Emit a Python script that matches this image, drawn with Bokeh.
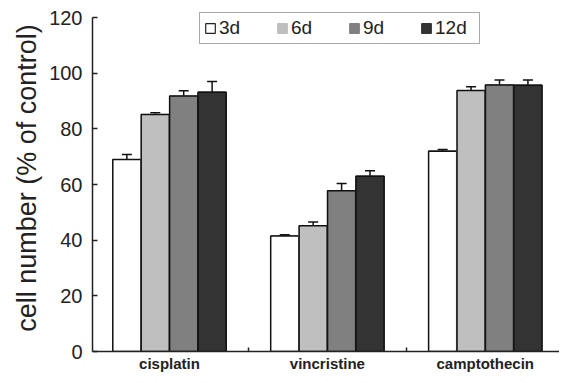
from bokeh.plotting import figure
from bokeh.models import ColumnDataSource, Whisker, TeeHead, FixedTicker, Legend, LegendItem
from bokeh.embed import file_html
from bokeh.resources import INLINE

drugs = ["cisplatin", "vincristine", "camptothecin"]
series = ["3d", "6d", "9d", "12d"]
colors = ["#ffffff", "#bfbfbf", "#808080", "#333333"]
values = {
    "3d": [69.0, 41.5, 72.0],
    "6d": [85.2, 45.2, 93.8],
    "9d": [91.8, 57.8, 95.8],
    "12d": [93.2, 63.0, 95.7],
}
errors = {
    "3d": [1.8, 0.5, 0.6],
    "6d": [0.6, 1.3, 1.3],
    "9d": [1.9, 2.6, 1.8],
    "12d": [3.8, 2.0, 1.9],
}
y_ticks = [0, 20, 40, 60, 80, 100, 120]

p = figure(width=559, height=375, output_backend="svg", toolbar_location=None,
           x_range=(0.0125, 2.97), y_range=(0, 124.7),
           min_border_left=92, min_border_right=0, min_border_top=4, min_border_bottom=24)
p.grid.visible = False
p.outline_line_color = None
p.background_fill_color = "white"

bw = 0.178
offsets = [-0.27, -0.09, 0.09, 0.27]
items = []
for s, c, off in zip(series, colors, offsets):
    xs = [i + 0.5 + off for i in range(len(drugs))]
    tops = values[s]
    ups = [v + e for v, e in zip(tops, errors[s])]
    src = ColumnDataSource(dict(x=xs, top=tops, lower=tops, upper=ups))
    lg = p.vbar(x="x", top="top", width=bw, source=src, fill_color=c,
                line_color="#222222" if c == "#ffffff" else c, line_width=1.2)
    p.vbar(x="x", top="top", width=bw, source=src, fill_color=c,
           line_color="#111111", line_width=1.5)
    w = Whisker(base="x", lower="lower", upper="upper", source=src, dimension="height",
                line_color="#111111", line_width=1.5, lower_head=None,
                upper_head=TeeHead(size=10, line_color="#111111", line_width=1.5))
    p.add_layout(w)
    items.append(LegendItem(label=s, renderers=[lg]))

legend = Legend(items=items, orientation="horizontal", location=(107, 307),
                label_text_font="Liberation Sans", label_text_font_size="19px",
                label_text_color="#222222",
                glyph_width=12, glyph_height=12, label_standoff=3, label_width=40,
                spacing=17, padding=4, margin=0,
                border_line_color="#555555", border_line_width=1.2,
                label_height=16)
p.add_layout(legend, "center")

p.yaxis.ticker = FixedTicker(ticks=y_ticks)
p.yaxis.bounds = (0, 120)
p.yaxis.major_tick_in = 5
p.yaxis.major_tick_out = 0
p.yaxis.major_label_standoff = 10
p.yaxis.axis_label = "cell number (% of control)"
p.yaxis.axis_label_text_font = "Liberation Sans"
p.yaxis.axis_label_text_font_size = "27px"
p.yaxis.axis_label_text_font_style = "normal"
p.yaxis.axis_label_text_color = "#222222"
p.yaxis.axis_label_standoff = 4
p.yaxis.major_label_text_font = "Liberation Sans"
p.yaxis.major_label_text_font_size = "20px"
p.yaxis.major_label_text_color = "#222222"

p.xaxis.ticker = FixedTicker(ticks=[i + 0.5 for i in range(len(drugs))],
                             minor_ticks=[i for i in range(1, len(drugs))])
p.xaxis.major_label_overrides = {i + 0.5: d for i, d in enumerate(drugs)}
p.xaxis.major_tick_in = 0
p.xaxis.major_tick_out = 0
p.xaxis.minor_tick_in = 4
p.xaxis.minor_tick_out = 0
p.xaxis.major_label_text_font = "Liberation Sans"
p.xaxis.major_label_text_font_size = "15px"
p.xaxis.major_label_text_font_style = "bold"
p.xaxis.major_label_text_color = "#222222"
p.xaxis.major_label_standoff = 3

for ax in (p.xaxis, p.yaxis):
    ax.axis_line_color = "#222222"
    ax.axis_line_width = 1.5
    ax.major_tick_line_color = "#222222"
    ax.major_tick_line_width = 1.5
    ax.minor_tick_line_color = "#222222"
    ax.minor_tick_line_width = 1.5
p.yaxis.minor_tick_line_color = None

open("out.html", "w").write(file_html(p, INLINE))
